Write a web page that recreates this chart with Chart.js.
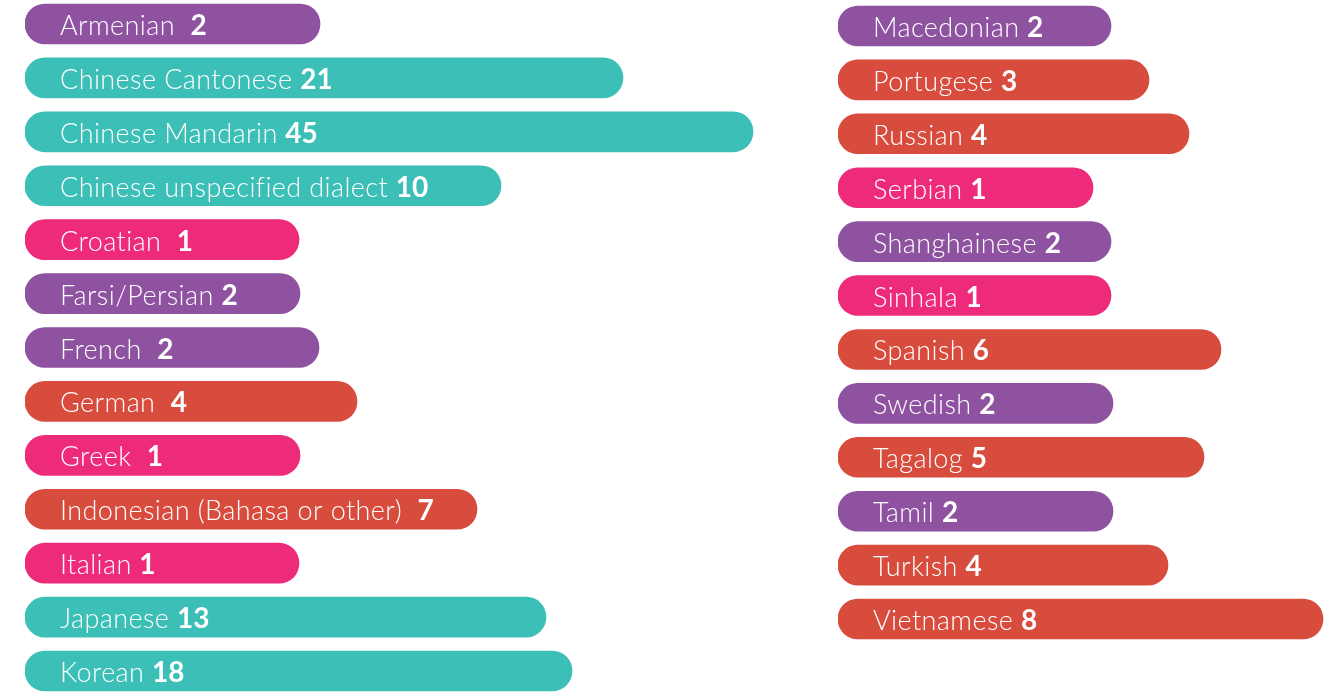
<!DOCTYPE html>
<html>
<head>
<meta charset="utf-8">
<script src="https://cdn.jsdelivr.net/npm/chart.js@4.4.1/dist/chart.umd.min.js"></script>
<style>
    html, body { margin: 0; padding: 0; background: #fff; overflow: hidden; }
    body { width: 1335px; height: 693px; position: relative; }
    .col { position: absolute; }
    #left-wrap { left: 0; top: -3px; width: 800px; height: 701px; }
    #right-wrap { left: 812px; top: -1px; width: 523px; height: 647px; }
</style>
</head>
<body>
<div class="col" id="left-wrap"><canvas id="left-chart"></canvas></div>
<div class="col" id="right-wrap"><canvas id="right-chart"></canvas></div>
<script>
// languages, counts and bar extents (px-ish units)
const leftLabels = ['Armenian  ', 'Chinese Cantonese ', 'Chinese Mandarin ', 'Chinese unspecified dialect ',
    'Croatian  ', 'Farsi/Persian ', 'French  ', 'German  ', 'Greek  ', 'Indonesian (Bahasa or other)  ',
    'Italian ', 'Japanese ', 'Korean '];
const leftCounts = [2, 21, 45, 10, 1, 2, 2, 4, 1, 7, 1, 13, 18];
const leftBarLength = [295, 598, 728, 476, 274, 275, 294, 332, 275, 452, 274, 521, 547];

const rightLabels = ['Macedonian ', 'Portugese ', 'Russian ', 'Serbian ', 'Shanghainese ', 'Sinhala ',
    'Spanish ', 'Swedish ', 'Tagalog ', 'Tamil ', 'Turkish ', 'Vietnamese '];
const rightCounts = [2, 3, 4, 1, 2, 1, 6, 2, 5, 2, 4, 8];
const rightBarLength = [273, 311, 351, 255, 273, 273, 383, 275, 366, 275, 330, 485];

// colour depends on how many speakers
function colorFor(n) {
    if (n === 1) return '#ee2a7b';
    if (n === 2) return '#8e52a1';
    if (n >= 10) return '#3cbfb6';
    return '#d84c3e';
}

const labelPlugin = {
    id: 'barLabels',
    afterDatasetsDraw(chart) {
        const ctx = chart.ctx;
        const meta = chart.getDatasetMeta(0);
        const names = chart.data.labels;
        const counts = chart.options.plugins.barLabels.counts;
        ctx.save();
        ctx.fillStyle = '#fff';
        ctx.textBaseline = 'alphabetic';
        meta.data.forEach((bar, i) => {
            let x = bar.base + 35;
            const y = bar.y + 11;
            ctx.letterSpacing = '0.4px';
            ctx.font = '300 27px Lato';
            ctx.fillText(names[i], x, y);
            x += ctx.measureText(names[i]).width;
            ctx.letterSpacing = '0px';
            ctx.font = '700 28px Lato';
            ctx.fillText(String(counts[i]), x, y);
        });
        ctx.restore();
    }
};

function makeChart(id, labels, counts, lengths, padLeft, xMax) {
    const ctx = document.getElementById(id);
    if (!ctx) return;
    new Chart(ctx, {
        type: 'bar',
        data: {
            labels: labels,
            datasets: [{
                data: lengths,
                backgroundColor: counts.map(colorFor),
                borderRadius: 20,
                borderSkipped: false,
                barThickness: 40
            }]
        },
        options: {
            indexAxis: 'y',
            responsive: true,
            maintainAspectRatio: false,
            animation: false,
            layout: { padding: { left: padLeft, right: 0, top: 0, bottom: 0 } },
            plugins: {
                legend: { display: false },
                tooltip: { enabled: false },
                barLabels: { counts: counts }
            },
            scales: {
                x: { display: false, min: 0, max: xMax },
                y: { display: false }
            }
        },
        plugins: [labelPlugin]
    });
}

makeChart('left-chart', leftLabels, leftCounts, leftBarLength, 25, 775);
makeChart('right-chart', rightLabels, rightCounts, rightBarLength, 26, 497);
</script>
</body>
</html>
